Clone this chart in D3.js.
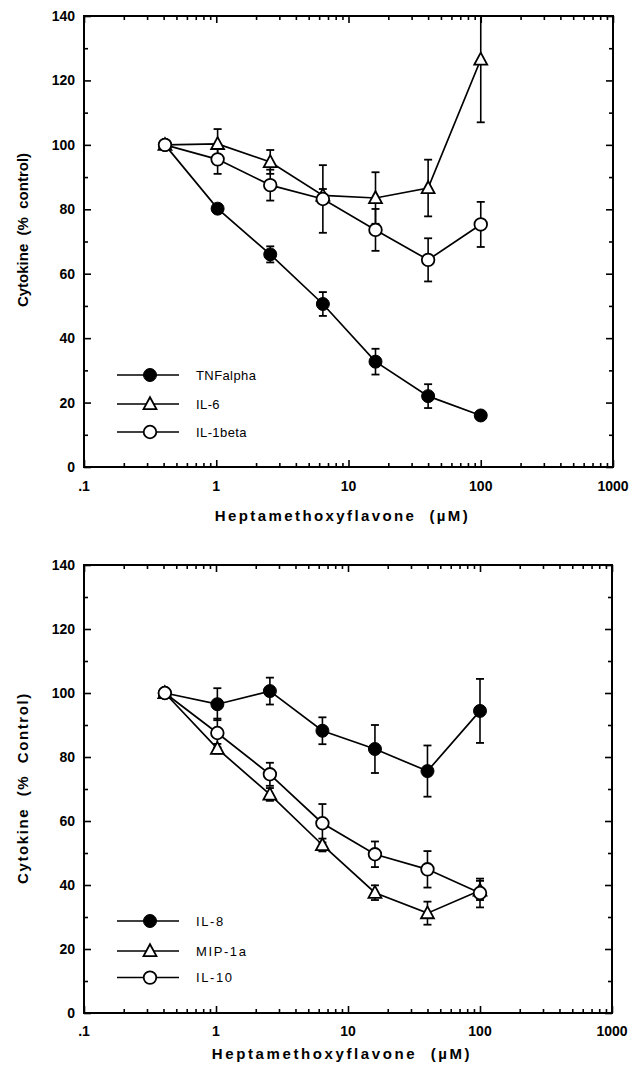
<!DOCTYPE html>
<html><head><meta charset="utf-8">
<script src="https://cdn.jsdelivr.net/npm/d3@7"></script>
<style>body{margin:0;background:#fff}svg{display:block}text{font-family:"Liberation Sans",Arial,Helvetica,sans-serif;fill:#000}</style>
</head><body>
<script>
// ---- data ----
const conc = [0.4096, 1.024, 2.56, 6.4, 16, 40, 100];
const xTickLabels = [".1", "1", "10", "100", "1000"];
const xTickValues = [0.1, 1, 10, 100, 1000];
const yTickValues = [0, 20, 40, 60, 80, 100, 120, 140];

// top panel
const tnfAlpha = [100, 80.2, 66, 50.6, 32.7, 22, 16];
const tnfAlphaErr = [0, 1, 2.5, 3.7, 4, 3.7, 1];
const il6 = [100, 100.3, 94.7, 84.3, 83.5, 86.6, 126.5];
const il6Err = [0, 4.6, 3.7, 2, 8, 8.8, 19.5];
const il1beta = [100, 95.5, 87.5, 83.2, 73.6, 64.3, 75.3];
const il1betaErr = [0, 4.5, 4.8, 10.5, 6.5, 6.7, 7];

// bottom panel
const il8 = [100, 96.5, 100.6, 88.2, 82.5, 75.6, 94.4];
const il8Err = [0, 5, 4.2, 4.2, 7.5, 8, 10];
const mip1a = [100, 82.6, 68.3, 52.5, 37.6, 31.2, 38.3];
const mip1aErr = [0, 1.5, 2, 2, 2.3, 3.6, 3];
const il10 = [100, 87.5, 74.6, 59.3, 49.6, 44.9, 37.5];
const il10Err = [0, 4.5, 3.6, 6, 4, 5.7, 4.5];

const topSeries = [
  {name: "TNFalpha", values: tnfAlpha, err: tnfAlphaErr, marker: "filled"},
  {name: "IL-6", values: il6, err: il6Err, marker: "triangle"},
  {name: "IL-1beta", values: il1beta, err: il1betaErr, marker: "open"}
];
const bottomSeries = [
  {name: "IL-8", values: il8, err: il8Err, marker: "filled"},
  {name: "MIP-1a", values: mip1a, err: mip1aErr, marker: "triangle"},
  {name: "IL-10", values: il10, err: il10Err, marker: "open"}
];

const W = 633, H = 1070;
const svg = d3.select("body").append("svg").attr("width", W).attr("height", H);

function drawMarker(g, type, cx, cy) {
  if (type === "filled") {
    g.append("circle").attr("cx", cx).attr("cy", cy).attr("r", 6.5).attr("fill", "#000").attr("stroke", "#000").attr("stroke-width", 1);
  } else if (type === "open") {
    g.append("circle").attr("cx", cx).attr("cy", cy).attr("r", 6.3).attr("fill", "#fff").attr("stroke", "#000").attr("stroke-width", 1.8);
  } else {
    const s = 6.8;
    g.append("path").attr("d", `M${cx},${cy - s}L${cx + s * 0.95},${cy + s * 0.75}L${cx - s * 0.95},${cy + s * 0.75}Z`)
      .attr("fill", "#fff").attr("stroke", "#000").attr("stroke-width", 1.8).attr("stroke-linejoin", "miter");
  }
}

function panel(opts) {
  const {left, right, top, bottom, series, yTitle, legendY, legendSpacing, xTitleY, xLabelY, titleSpacing, legendSpacingLetters, id} = opts;
  const x = d3.scaleLog().domain([0.1, 1000]).range([left, right]);
  const y = d3.scaleLinear().domain([0, 140]).range([bottom, top]);
  const g = svg.append("g");

  g.append("clipPath").attr("id", id).append("rect")
    .attr("x", left).attr("y", top).attr("width", right - left).attr("height", bottom - top);

  // minor x ticks
  const minor = [];
  for (let d = 0.1; d < 1000; d *= 10) for (let k = 2; k <= 9; k++) minor.push(d * k);

  const axB = g.append("g").attr("transform", `translate(0,${bottom})`)
    .call(d3.axisBottom(x).tickValues(minor).tickSize(-4).tickFormat(""));
  const axB2 = g.append("g").attr("transform", `translate(0,${bottom})`)
    .call(d3.axisBottom(x).tickValues(xTickValues).tickSize(-7).tickFormat(""));
  const axT = g.append("g").attr("transform", `translate(0,${top})`)
    .call(d3.axisTop(x).tickValues(minor).tickSize(-4).tickFormat(""));
  const axT2 = g.append("g").attr("transform", `translate(0,${top})`)
    .call(d3.axisTop(x).tickValues(xTickValues).tickSize(-7).tickFormat(""));
  const yMinor = d3.range(10, 140, 20);
  const axL = g.append("g").attr("transform", `translate(${left},0)`)
    .call(d3.axisLeft(y).tickValues(yTickValues).tickSize(-7).tickFormat(""));
  const axL2 = g.append("g").attr("transform", `translate(${left},0)`)
    .call(d3.axisLeft(y).tickValues(yMinor).tickSize(-4).tickFormat(""));
  const axR = g.append("g").attr("transform", `translate(${right},0)`)
    .call(d3.axisRight(y).tickValues(yTickValues).tickSize(-7).tickFormat(""));
  const axR2 = g.append("g").attr("transform", `translate(${right},0)`)
    .call(d3.axisRight(y).tickValues(yMinor).tickSize(-4).tickFormat(""));
  [axB, axB2, axT, axT2, axL, axL2, axR, axR2].forEach(a => {
    a.select(".domain").remove();
    a.selectAll("line").attr("stroke", "#000").attr("stroke-width", 1.6);
  });

  // frame
  g.append("rect").attr("x", left).attr("y", top).attr("width", right - left).attr("height", bottom - top)
    .attr("fill", "none").attr("stroke", "#000").attr("stroke-width", 2);

  // tick labels
  g.selectAll(".xl").data(xTickValues).join("text")
    .attr("x", d => x(d)).attr("y", xLabelY).attr("text-anchor", "middle")
    .attr("font-size", 14).attr("font-weight", "bold").text((d, i) => xTickLabels[i]);
  g.selectAll(".yl").data(yTickValues).join("text")
    .attr("x", left - 9).attr("y", d => y(d)).attr("dy", "0.36em").attr("text-anchor", "end")
    .attr("font-size", 14).attr("font-weight", "bold").text(d => d);

  // titles
  g.append("text").attr("x", (left + right) / 2 - 6).attr("y", xTitleY).attr("text-anchor", "middle")
    .attr("font-size", 15).attr("font-weight", "bold").attr("letter-spacing", titleSpacing)
    .style("white-space", "pre").text("Heptamethoxyflavone  (\u00b5M)");
  g.append("text").attr("transform", `translate(28,${opts.yTitleCenter}) rotate(-90)`).attr("text-anchor", "middle")
    .attr("font-size", opts.yTitleSize).attr("font-weight", "bold").attr("letter-spacing", opts.yTitleSpacing)
    .style("white-space", "pre").text(yTitle);

  // lines
  const line = d3.line().x(d => x(d[0])).y(d => y(d[1]));
  const plot = g.append("g").attr("clip-path", `url(#${id})`);
  series.forEach(s => {
    plot.append("path").datum(conc.map((c, i) => [c, s.values[i]]))
      .attr("d", line).attr("fill", "none").attr("stroke", "#000").attr("stroke-width", 1.7);
  });
  // error bars
  series.forEach(s => {
    conc.forEach((c, i) => {
      const e = s.err[i];
      if (!e) return;
      const cx = x(c), y1 = y(s.values[i] + e), y2 = y(s.values[i] - e);
      plot.append("line").attr("x1", cx).attr("x2", cx).attr("y1", y1).attr("y2", y2).attr("stroke", "#000").attr("stroke-width", 1.6);
      [y1, y2].forEach(yy => plot.append("line").attr("x1", cx - 4).attr("x2", cx + 4).attr("y1", yy).attr("y2", yy).attr("stroke", "#000").attr("stroke-width", 1.8));
    });
  });
  // markers
  series.forEach(s => {
    conc.forEach((c, i) => drawMarker(g, s.marker, x(c), y(s.values[i])));
  });

  // legend
  series.forEach((s, i) => {
    const ly = legendY + i * legendSpacing[i];
    g.append("line").attr("x1", left + 33).attr("x2", left + 95).attr("y1", ly).attr("y2", ly).attr("stroke", "#000").attr("stroke-width", 1.5);
    drawMarker(g, s.marker, left + 66, ly);
    g.append("text").attr("x", left + 112).attr("y", ly).attr("dy", "0.36em")
      .attr("font-size", 13).attr("letter-spacing", legendSpacingLetters).text(s.name);
  });
}

panel({id: "c1", left: 84, right: 613, top: 16, bottom: 467, series: topSeries,
  yTitle: "Cytokine  (%  control)", yTitleCenter: 230, yTitleSpacing: 0, yTitleSize: 15,
  legendY: 375, legendSpacing: [0, 29, 28.5], xTitleY: 521, xLabelY: 491, titleSpacing: 2.4, legendSpacingLetters: 0.4});
panel({id: "c2", left: 84, right: 612, top: 565, bottom: 1013, series: bottomSeries,
  yTitle: "Cytokine  (%  Control)", yTitleCenter: 788, yTitleSpacing: 1.6, yTitleSize: 15,
  legendY: 921, legendSpacing: [0, 30, 28.3], xTitleY: 1059, xLabelY: 1036, titleSpacing: 2.6, legendSpacingLetters: 1.6});
</script>
</body></html>
